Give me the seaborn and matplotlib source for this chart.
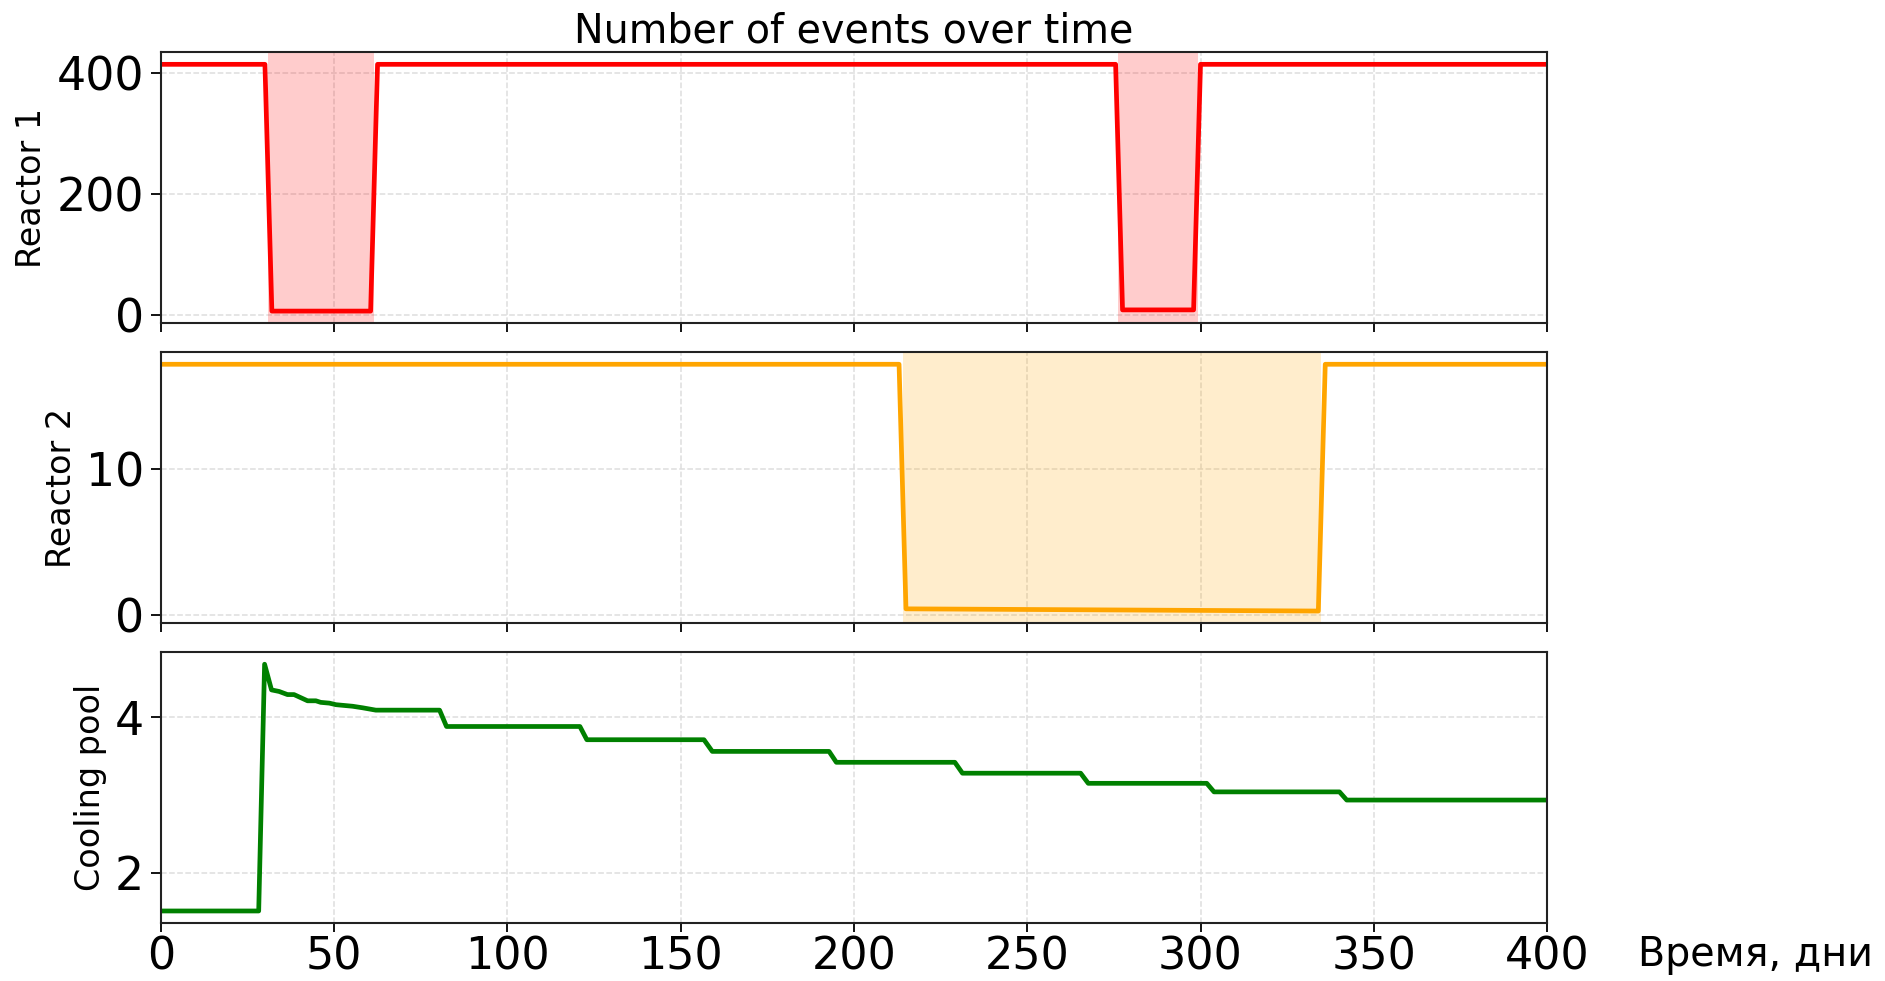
import matplotlib
matplotlib.use("Agg")
import matplotlib.pyplot as plt
import seaborn as sns
import pandas as pd

# Reactor 1: number of events per day, with two refuelling outages
days_r1 = [0, 30, 32, 60.5, 62.5, 275.5, 277.5, 298, 300, 400]
events_r1 = [415, 415, 7, 7, 415, 415, 9, 9, 415, 415]
outages_r1 = [(31.0, 61.4), (276.2, 299.3)]

# Reactor 2: one long outage
days_r2 = [0, 213, 215, 334, 336, 400]
events_r2 = [17.1, 17.1, 0.45, 0.3, 17.1, 17.1]
outages_r2 = [(214.1, 334.7)]

# Cooling pool: spent fuel unloaded at day ~30, then decaying in steps
days_pool = [0, 28.2, 29.9, 31.9, 34.1, 36.5, 38.4, 42.3, 44.7, 46.1, 48.6,
             50.5, 52.9, 55.3, 58.2, 62.0, 80.4, 82.4, 120.9, 122.9, 156.7,
             159.1, 192.8, 194.9, 229.1, 231.3, 265.4, 267.6, 301.8, 303.9,
             340.1, 342.2, 400]
events_pool = [1.51, 1.51, 4.68, 4.35, 4.33, 4.29, 4.29, 4.21, 4.21, 4.19, 4.18,
               4.16, 4.15, 4.14, 4.12, 4.09, 4.09, 3.88, 3.88, 3.71, 3.71,
               3.56, 3.56, 3.42, 3.42, 3.28, 3.28, 3.15, 3.15, 3.04,
               3.04, 2.935, 2.935]

x_ticks = [0, 50, 100, 150, 200, 250, 300, 350, 400]

sns.set_theme(style="ticks")
plt.rcParams["font.family"] = ["DejaVu Sans"]
plt.rcParams.update({
    "text.color": "black",
    "axes.labelcolor": "black",
    "xtick.color": "black",
    "ytick.color": "black",
})

fig, axes = plt.subplots(3, 1, figsize=(18.85, 9.81), dpi=100, sharex=True)
fig.subplots_adjust(left=0.0854, right=0.8207, top=0.947, bottom=0.0588, hspace=0.105)

panels = [
    (days_r1, events_r1, outages_r1, "#ff0000", "Reactor 1"),
    (days_r2, events_r2, outages_r2, "#ffa500", "Reactor 2"),
    (days_pool, events_pool, [], "#008000", "Cooling pool"),
]

for ax, (xs, ys, spans, color, name) in zip(axes, panels):
    df = pd.DataFrame({"day": xs, "events": ys})
    sns.lineplot(data=df, x="day", y="events", ax=ax, color=color, lw=3.4)
    for start, end in spans:
        ax.axvspan(start, end, color=color, alpha=0.2, lw=0)
    ax.set_xlim(0, 400)
    ax.set_ylabel(name, fontsize=24, labelpad=6)
    ax.set_xlabel("")
    ax.grid(True, ls="--", color="#dedede", lw=1.1)
    ax.tick_params(axis="y", labelsize=33, length=7, width=1.3, pad=5)
    ax.tick_params(axis="x", labelsize=32, length=6.5, width=1.3, pad=2.5)
    for sp in ax.spines.values():
        sp.set_color("#222222")
        sp.set_linewidth(1.5)

axes[0].set_yticks([0, 200, 400])
axes[1].set_yticks([0, 10])
axes[2].set_yticks([2, 4])
axes[2].set_xticks(x_ticks)

axes[0].set_title("Number of events over time", fontsize=28.5, pad=5)

axes[2].set_xlabel("Время, дни", fontsize=28.5, ha="left", va="center")
axes[2].xaxis.set_label_coords(1.066, -0.115)

fig.savefig("out.png", dpi=100)
